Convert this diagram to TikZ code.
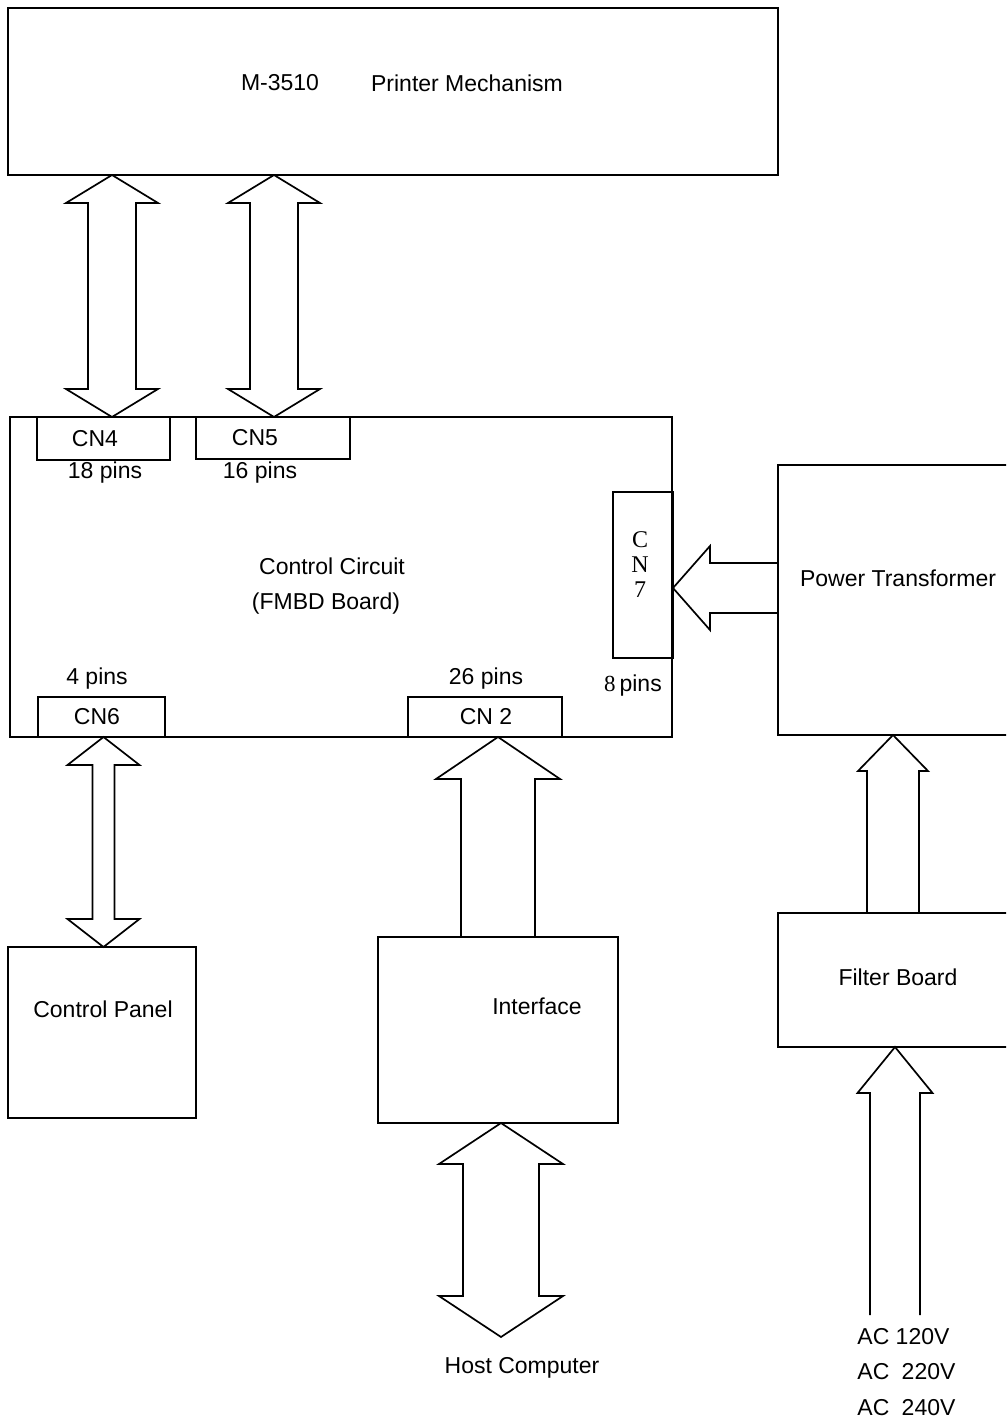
\documentclass[tikz,border=0pt]{standalone}
\usepackage{fontspec}
\setmainfont{Liberation Sans}
\newfontfamily\cnserif{Liberation Serif}
\usetikzlibrary{calc,positioning}
\tikzset{
  every node/.style={font=\fontsize{11.5}{13}\selectfont},
  block/.style={draw, line width=0.85pt, outer sep=0pt, inner sep=0pt},
  conn/.style={block},
  lbl/.style={inner sep=0pt},
  fat/.style={draw, line width=0.85pt, line join=miter},
}
% fat arrows: tip/top, end/bottom, shaft half width, head half width, head length
\newcommand{\twoway}[5]{\draw[fat] let \p1=#1, \p2=#2 in
  (\x1,\y1) -- (\x1+#4,\y1-#5) -- (\x1+#3,\y1-#5) -- (\x1+#3,\y2+#5) -- (\x1+#4,\y2+#5) -- (\x1,\y2)
  -- (\x1-#4,\y2+#5) -- (\x1-#3,\y2+#5) -- (\x1-#3,\y1-#5) -- (\x1-#4,\y1-#5) -- cycle;}
\newcommand{\oneup}[5]{\draw[fat] let \p1=#1, \p2=#2 in
  (\x1-#3,\y2) -- (\x1-#3,\y1-#5) -- (\x1-#4,\y1-#5) -- (\x1,\y1) -- (\x1+#4,\y1-#5) -- (\x1+#3,\y1-#5) -- (\x1+#3,\y2);}
\newcommand{\oneleft}[5]{\draw[fat] let \p1=#1, \p2=#2 in
  (\x2,\y1+#3) -- (\x1+#5,\y1+#3) -- (\x1+#5,\y1+#4) -- (\x1,\y1) -- (\x1+#5,\y1-#4) -- (\x1+#5,\y1-#3) -- (\x2,\y1-#3);}

\begin{document}
\begin{tikzpicture}[x=0.5pt,y=-0.5pt]
\useasboundingbox (0,0) rectangle (1006,1422);
\clip (0,0) rectangle (1006,1422);

% printer mechanism
\node[block, minimum width=385pt, minimum height=83.5pt] (mech) at (393,91.5) {};
\node[lbl] (mechid) at (280,83) {M-3510};
\node[lbl] (mechname) at (467,83) {Printer Mechanism};

% control board and its connectors
\node[block, minimum width=331pt, minimum height=160pt] (board) at (341,577) {};
\node[lbl] (boardname) at (332,566) {Control Circuit};
\node[lbl] (boardtype) at (326,604) {(FMBD Board)};
\node[conn, minimum width=66.5pt, minimum height=21.5pt] (cnfour) at (103.5,438.5) {};
\node[conn, minimum width=77pt, minimum height=21pt] (cnfive) at (273,438) {};
\node[conn, minimum width=30pt, minimum height=83pt] (cnseven) at (643,575) {};
\node[conn, minimum width=63.5pt, minimum height=20pt] (cnsix) at (101.5,717) {};
\node[conn, minimum width=77pt, minimum height=20pt] (cntwo) at (485,717) {};
\node[lbl] at ([xshift=-4.25pt]cnfour.center) {CN4};
\node[lbl] at ([xshift=-9pt]cnfive.center) {CN5};
\node[lbl] at ([xshift=-2.25pt]cnsix.center) {CN6};
\node[lbl] at ([xshift=0.5pt]cntwo.center) {CN 2};
\node[lbl, align=center, font=\cnserif\fontsize{12}{12.5}\selectfont] at ([xshift=-1.5pt,yshift=5pt]cnseven.center) {C\\N\\7};
\node[lbl] (pinsfour) at (105,473) {18 pins};
\node[lbl] (pinsfive) at (260,473) {16 pins};
\node[lbl] (pinssix) at (97,679) {4 pins};
\node[lbl] (pinstwo) at (486,679) {26 pins};
\node[lbl] (pinsseven) at (633,686) {{\cnserif 8}\,pins};

% power side
\node[block, minimum width=117pt, minimum height=135pt] (power) at (895,600) {};
\node[lbl] (powername) at (898,578) {Power Transformer};
\node[block, minimum width=117pt, minimum height=67pt] (filter) at (895,980) {};
\node[lbl] (filtername) at (898,977) {Filter Board};
\node[lbl, anchor=west, align=left, font=\fontsize{11.5}{17.75}\selectfont] (acin) at (857,1372)
  {AC 120V\\AC\hspace{3pt} 220V\\AC\hspace{3pt} 240V};
\coordinate (acend) at (896,1315);

% panel and interface
\node[block, minimum width=94pt, minimum height=85.5pt] (panel) at (102,1032.5) {};
\node[lbl] (panelname) at (103,1009) {Control Panel};
\node[block, minimum width=120pt, minimum height=93pt] (iface) at (498,1030) {};
\node[lbl] (ifacename) at (537,1006) {Interface};
\node[lbl] (host) at (522,1368) {Host Computer};
\coordinate (hostend) at (501,1337);

% arrows
\coordinate (tipfour) at ([xshift=4.25pt]cnfour.north);
\coordinate (tipfive) at ([xshift=0.5pt]cnfive.north);
\coordinate (tipsix) at ([xshift=1pt]cnsix.south);
\coordinate (tiptwo) at ([xshift=6.5pt]cntwo.south);
\coordinate (tipseven) at ([yshift=-6.5pt]cnseven.east);
\coordinate (tippower) at ([xshift=-1pt]power.south);
\coordinate (tiphost) at ([xshift=1.5pt]iface.south);
\twoway{(mech.south -| tipfour)}{(tipfour)}{12pt}{23pt}{14pt}
\twoway{(mech.south -| tipfive)}{(tipfive)}{12pt}{23pt}{14pt}
\twoway{(tipsix)}{(panel.north -| tipsix)}{5.5pt}{18pt}{14pt}
\oneup{(tiptwo)}{(iface.north -| tiptwo)}{18.5pt}{31pt}{21pt}
\twoway{(tiphost)}{(hostend)}{19pt}{31pt}{20.5pt}
\oneleft{(tipseven)}{(power.west |- tipseven)}{12.5pt}{21pt}{18.5pt}
\oneup{(tippower)}{(filter.north -| tippower)}{13pt}{17.5pt}{18pt}
\oneup{(filter.south)}{(acend)}{12.5pt}{18.75pt}{23pt}
\end{tikzpicture}
\end{document}
